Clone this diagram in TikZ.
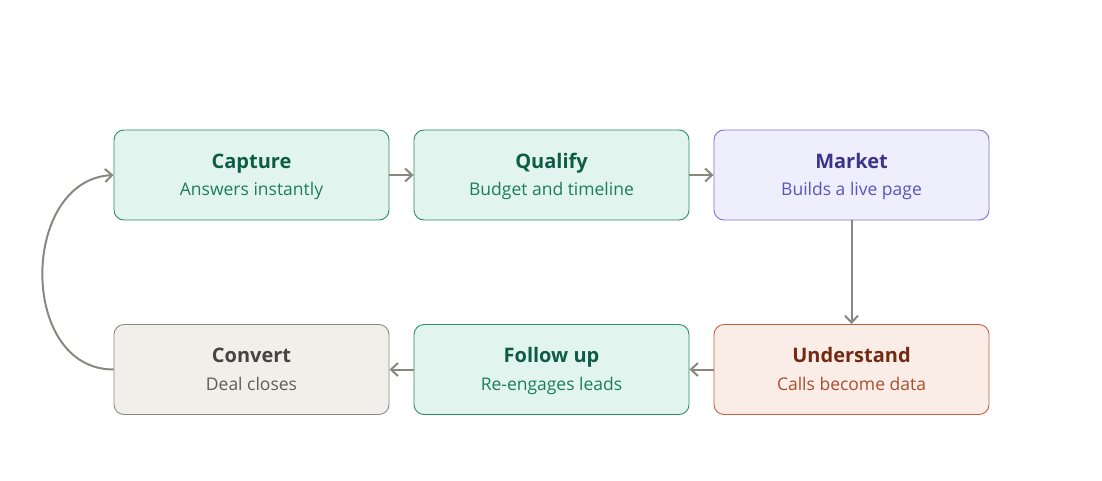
\documentclass[tikz,border=0pt]{standalone}
\usepackage{fontspec}
\setmainfont{Open Sans}
\usetikzlibrary{arrows.meta}
\definecolor{gfill}{HTML}{E1F5EE}\definecolor{gdraw}{HTML}{2E8B6A}\definecolor{gtitle}{HTML}{0F5C45}\definecolor{gsub}{HTML}{1D7D5A}
\definecolor{pfill}{HTML}{EEEEFD}\definecolor{pdraw}{HTML}{7B73D0}\definecolor{ptitle}{HTML}{3C3489}\definecolor{psub}{HTML}{5B55B8}
\definecolor{ofill}{HTML}{FAECE7}\definecolor{odraw}{HTML}{C0603F}\definecolor{otitle}{HTML}{712B13}\definecolor{osub}{HTML}{A8502E}
\definecolor{nfill}{HTML}{F0EFEA}\definecolor{ndraw}{HTML}{8A8A85}\definecolor{ntitle}{HTML}{444441}\definecolor{nsub}{HTML}{5F5E5A}
\definecolor{arr}{HTML}{888780}
\tikzset{
  box/.style={draw, rounded corners=10pt, minimum width=275pt, minimum height=90pt, line width=0.9pt, inner sep=0pt},
  green/.style={box, fill=gfill, draw=gdraw},
  purple/.style={box, fill=pfill, draw=pdraw},
  orange/.style={box, fill=ofill, draw=odraw},
  neutral/.style={box, fill=nfill, draw=ndraw},
  ttl/.style={font=\fontsize{20}{24}\selectfont\bfseries, anchor=base, inner sep=0pt},
  sub/.style={font=\fontsize{17.5}{21}\selectfont, anchor=base, inner sep=0pt},
  flow/.style={draw=arr, line width=2pt, -{Straight Barb[length=7pt,width=13pt,line width=2pt]}}
}
\begin{document}
\begin{tikzpicture}[x=1pt,y=-1pt]
\useasboundingbox (0,0) rectangle (1102,480);
\node[green] (cap) at (251.5,175) {};
\node[green] (qua) at (551.5,175) {};
\node[purple] (mar) at (851.5,175) {};
\node[orange] (und) at (851.5,369.5) {};
\node[green] (fol) at (551.5,369.5) {};
\node[neutral] (con) at (251.5,369.5) {};
\node[ttl,text=gtitle] (capt) at (251.5,168) {Capture};
\node[sub,text=gsub] (caps) at (251.5,195) {Answers instantly};
\node[ttl,text=gtitle] (quat) at (551.5,168) {Qualify};
\node[sub,text=gsub] (quas) at (551.5,195) {Budget and timeline};
\node[ttl,text=ptitle] (mart) at (851.5,168) {Market};
\node[sub,text=psub] (mars) at (851.5,195) {Builds a live page};
\node[ttl,text=otitle] (undt) at (851.5,362) {Understand};
\node[sub,text=osub] (unds) at (851.5,390) {Calls become data};
\node[ttl,text=gtitle] (folt) at (551.5,362) {Follow up};
\node[sub,text=gsub] (fols) at (551.5,390) {Re-engages leads};
\node[ttl,text=ntitle] (cont) at (251.5,362) {Convert};
\node[sub,text=nsub] (cons) at (251.5,390) {Deal closes};
\draw[flow] (cap.east) -- (qua.west);
\draw[flow] (qua.east) -- (mar.west);
\draw[flow] (mar.south) -- (und.north);
\draw[flow] (und.west) -- (fol.east);
\draw[flow] (fol.west) -- (con.east);
\draw[flow] (con.west) .. controls (18,369.5) and (20,180) .. (cap.west);
\end{tikzpicture}
\end{document}
